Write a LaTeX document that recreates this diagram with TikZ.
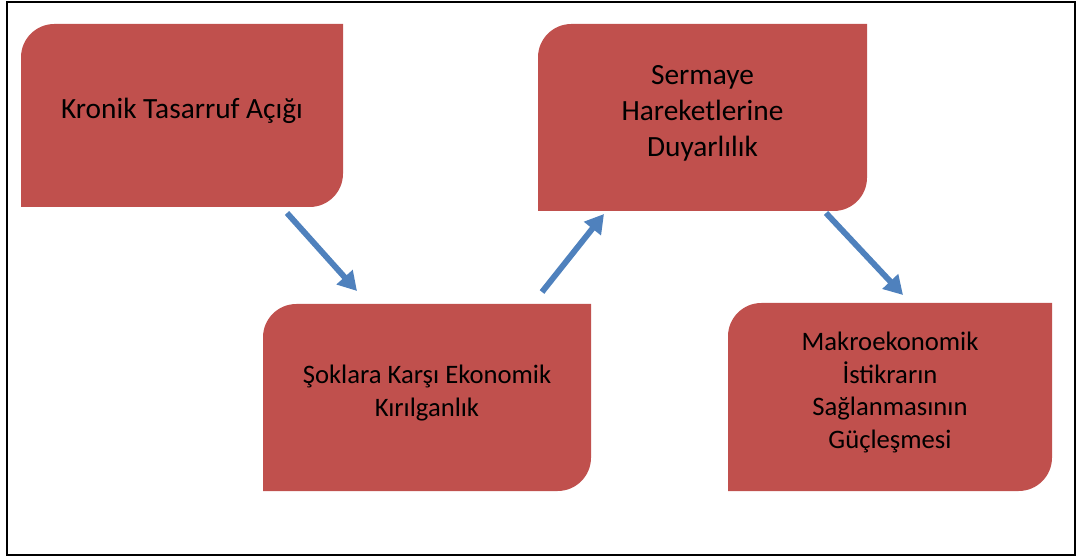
\documentclass[tikz,border=0pt]{standalone}
\usepackage{fontspec}
\setmainfont{Carlito}
\usepackage{tikz}
\usetikzlibrary{arrows.meta,calc,backgrounds}

\definecolor{kutukirmizi}{HTML}{C0504D}
\definecolor{okmavi}{HTML}{4F81BD}
\newcommand{\kutuyazi}[1]{\raisebox{3pt}[\height][\depth]{\begin{tabular}{@{}c@{}}#1\end{tabular}}}

\begin{document}
\begin{tikzpicture}[x=0.75pt,y=0.75pt,
    kutu/.style={inner sep=0pt, outer sep=0pt, font=\fontsize{20}{24.4}\selectfont},
    ok/.style={draw=okmavi, line width=4.4pt, -{Triangle[width=15.5pt,length=14pt]}}]
    \useasboundingbox (0,0) rectangle (1078,-559);
    \draw[line width=1.5pt] (6.5,-2) rectangle (1075,-555);

    \node[kutu, minimum width=241.5pt, minimum height=137.25pt, font=\fontsize{22}{26.8}\selectfont] (kronik) at (182,-115.5)
        {\kutuyazi{Kronik Tasarruf Açığı}};
    \node[kutu, minimum width=246.75pt, minimum height=140.25pt, font=\fontsize{22}{26.8}\selectfont] (sermaye) at (702.5,-117.5)
        {\kutuyazi{Sermaye\\Hareketlerine\\Duyarlılık}};
    \node[kutu, minimum width=246pt, minimum height=140.25pt] (soklar) at (427,-397.5)
        {\kutuyazi{Şoklara Karşı Ekonomik\\Kırılganlık}};
    \node[kutu, minimum width=243pt, minimum height=141pt] (makro) at (890,-397)
        {\kutuyazi{Makroekonomik\\İstikrarın\\Sağlanmasının\\Güçleşmesi}};

    % kutular: sol ust ve sag alt koseler yuvarlak
    \begin{scope}[on background layer]
        \foreach \k in {kronik,sermaye,soklar,makro}{
            \fill[kutukirmizi] ([yshift=-25pt]\k.north west) arc[start angle=180, end angle=90, radius=25pt]
                -- (\k.north east) -- ([yshift=25pt]\k.south east)
                arc[start angle=0, end angle=-90, radius=25pt] -- (\k.south west) -- cycle;
        }
    \end{scope}

    \draw[ok] ($(kronik.south east)+(-56,-6)$) -- ($(soklar.north west)+(94,13)$);
    \draw[ok] ($(soklar.north east)+(-49,12)$) -- ($(sermaye.south west)+(66,-3)$);
    \draw[ok] ($(sermaye.south east)+(-41,-2)$) -- ($(makro.north west)+(175,8)$);
\end{tikzpicture}
\end{document}
